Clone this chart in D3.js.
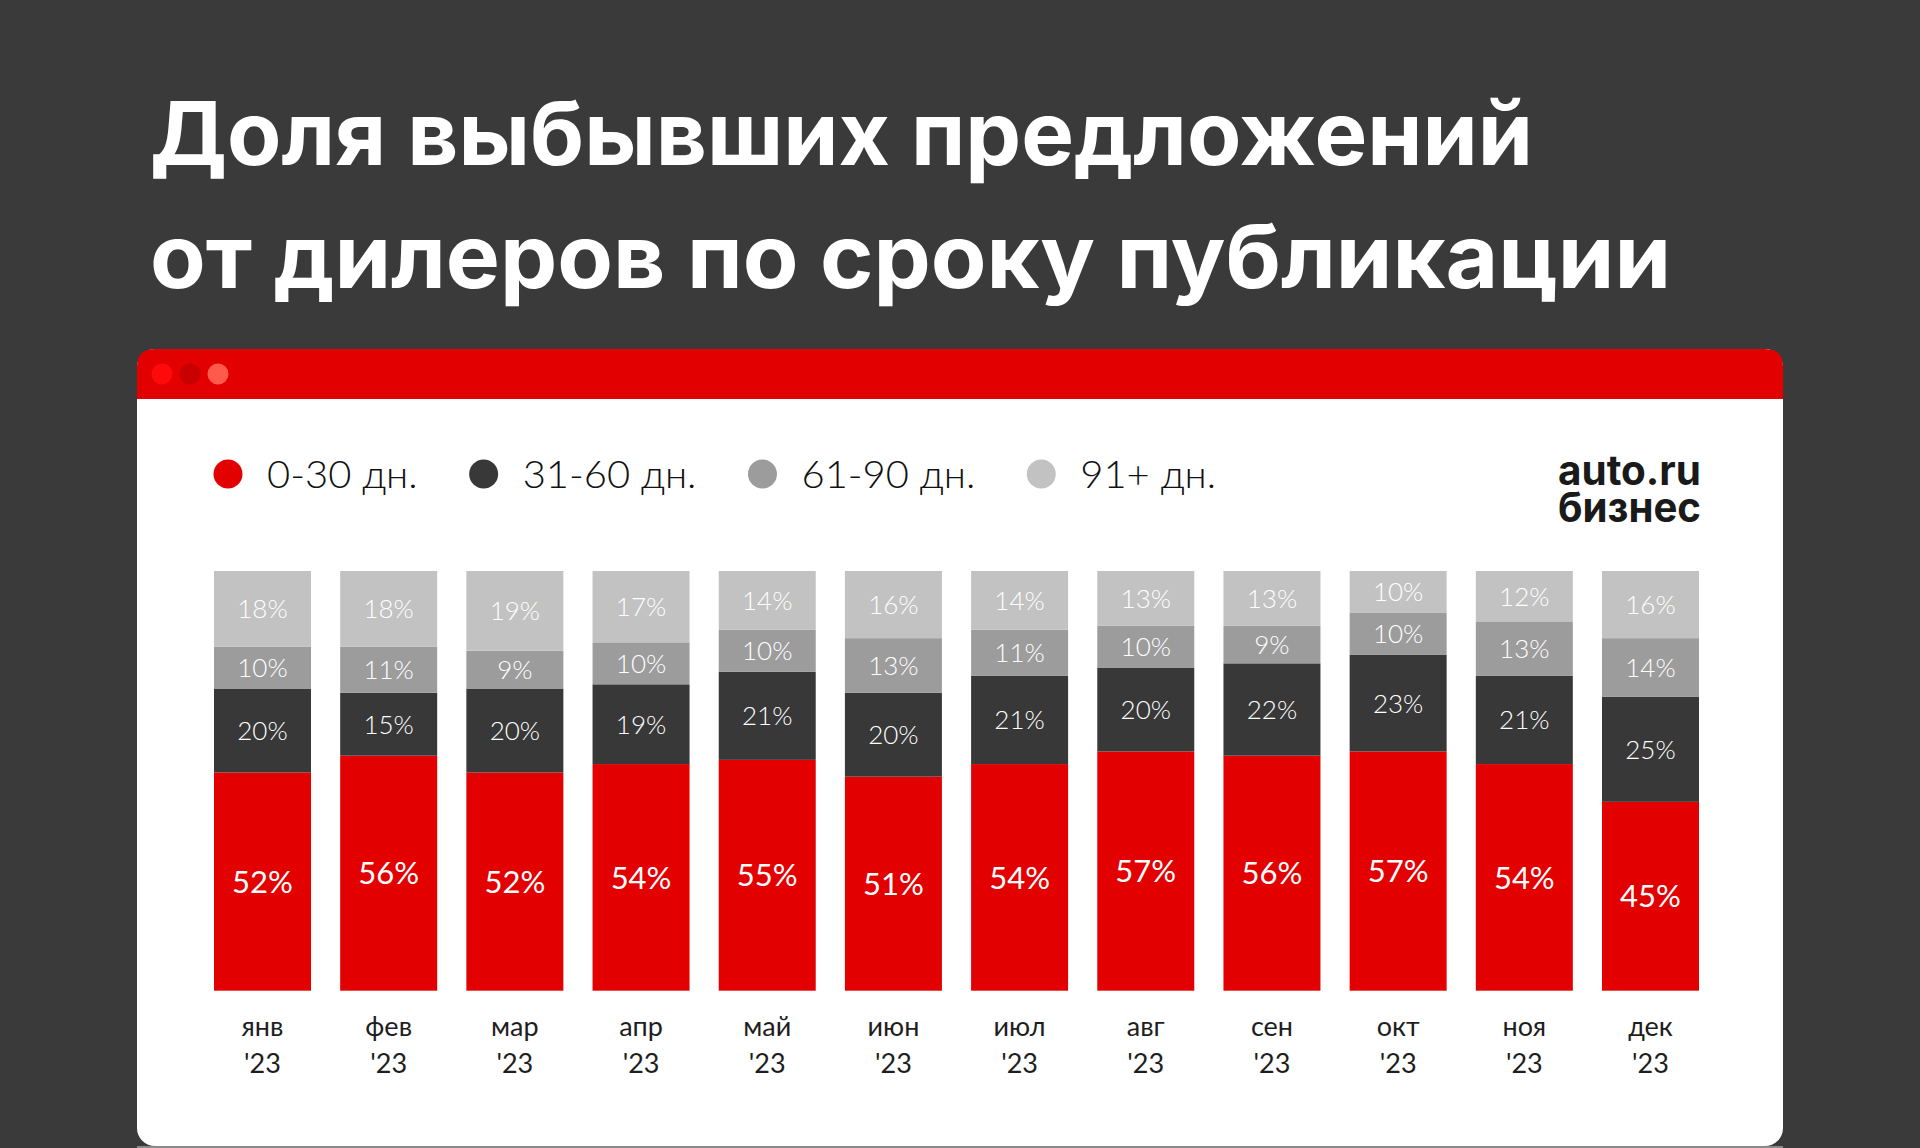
<!DOCTYPE html>
<html>
  <head>
    <meta charset="utf-8">
    <title>Доля выбывших предложений</title>
    <script src="https://d3js.org/d3.v7.min.js"></script>
    <style>
      body { margin: 0; background: #3a3a3a; }
      svg { display: block; }
    </style>
  </head>
  <body>
    <script>

      // months and values (share of removed offers, %)
      var months = ["янв", "фев", "мар", "апр", "май", "июн", "июл", "авг", "сен", "окт", "ноя", "дек"]
      var year_label = "'23"
      var series_names = ["0-30 дн.", "31-60 дн.", "61-90 дн.", "91+ дн."]
      var d0_30 = [52, 56, 52, 54, 55, 51, 54, 57, 56, 57, 54, 45]
      var d31_60 = [20, 15, 20, 19, 21, 20, 21, 20, 22, 23, 21, 25]
      var d61_90 = [10, 11, 9, 10, 10, 13, 11, 10, 9, 10, 13, 14]
      var d91 = [18, 18, 19, 17, 14, 16, 14, 13, 13, 10, 12, 16]

      var colors = ["#e30000", "#383838", "#9c9c9c", "#c2c2c2"]

      var w = 1920
      var h = 1148

      var svg = d3.select("body")
        .append("svg")
        .attr("width", w)
        .attr("height", h)

      // background
      svg.append("rect")
        .attr("width", w)
        .attr("height", h)
        .attr("fill", "#3a3a3a")

      // title
      var title_lines = ["Доля выбывших предложений", "от дилеров по сроку публикации"]
      var title_widths = [1383, 1521]
      svg.selectAll(".title")
        .data(title_lines)
        .enter()
        .append("text")
        .attr("class", "title")
        .attr("x", 150)
        .attr("y", function(d, i) { return 165 + i * 123 })
        .attr("textLength", function(d, i) { return title_widths[i] })
        .attr("lengthAdjust", "spacingAndGlyphs")
        .attr("font-family", "Inter, 'Open Sans', sans-serif")
        .attr("font-weight", 700)
        .attr("font-size", 88)
        .attr("fill", "#ffffff")
        .text(function(d) { return d })

      // card with red window header
      var card_x = 137
      var card_w = 1646
      var card_y = 349
      svg.append("rect")
        .attr("x", card_x)
        .attr("y", card_y)
        .attr("width", card_w)
        .attr("height", 1146 - card_y)
        .attr("rx", 18)
        .attr("fill", "#ffffff")
      svg.append("path")
        .attr("d", "M" + card_x + "," + 399 + "V" + (card_y + 18)
          + "Q" + card_x + "," + card_y + " " + (card_x + 18) + "," + card_y
          + "H" + (card_x + card_w - 18)
          + "Q" + (card_x + card_w) + "," + card_y + " " + (card_x + card_w) + "," + (card_y + 18)
          + "V399Z")
        .attr("fill", "#e30000")
      svg.append("rect")
        .attr("x", card_x)
        .attr("y", 1146)
        .attr("width", card_w)
        .attr("height", 2)
        .attr("fill", "#8a8a8a")

      // window dots
      var dot_colors = ["#ff0a0a", "#c80000", "#ff5a4c"]
      svg.selectAll(".dot")
        .data(dot_colors)
        .enter()
        .append("circle")
        .attr("class", "dot")
        .attr("cx", function(d, i) { return 162 + i * 28 })
        .attr("cy", 374)
        .attr("r", 10.5)
        .attr("fill", function(d) { return d })

      // legend, laid out one after another
      var legend = svg.append("g")
      var lx = 228
      series_names.forEach(function(name, i) {
        legend.append("circle")
          .attr("cx", lx)
          .attr("cy", 474)
          .attr("r", 14.5)
          .attr("fill", colors[i])
        var t = legend.append("text")
          .attr("x", lx + 39)
          .attr("y", 488)
          .attr("font-family", "Lato, sans-serif")
          .attr("font-weight", 300)
          .attr("font-size", 37)
          .attr("fill", "#111111")
          .text(name)
        var len = t.node().getComputedTextLength() * 1.08
        t.attr("textLength", len).attr("lengthAdjust", "spacingAndGlyphs")
        lx = lx + 39 + len + 66
      })

      // logo (two lines in one text)
      var logo = ["auto.ru", "бизнес"]
      svg.append("text")
        .attr("font-family", "Inter, sans-serif")
        .attr("font-weight", 700)
        .attr("font-size", 41)
        .attr("fill", "#1a1a1a")
        .selectAll("tspan")
        .data(logo)
        .enter()
        .append("tspan")
        .attr("x", 1558)
        .attr("y", function(d, i) { return 485 + i * 37 })
        .attr("textLength", 143)
        .attr("lengthAdjust", "spacingAndGlyphs")
        .text(function(d) { return d })

      // stacked data
      var table = months.map(function(m, i) {
        return { month: m, s0: d0_30[i], s1: d31_60[i], s2: d61_90[i], s3: d91[i] }
      })
      var keys = ["s0", "s1", "s2", "s3"]
      var stacked = d3.stack().keys(keys)(table)

      var x_scale = d3.scaleBand()
        .domain(months)
        .range([214, 1699])
        .paddingInner(0.2313)
        .paddingOuter(0)

      var y_scale = d3.scaleLinear()
        .domain([0, 100])
        .range([990.7, 571])

      var layers = svg.selectAll(".layer")
        .data(stacked)
        .enter()
        .append("g")
        .attr("class", "layer")
        .attr("fill", function(d, i) { return colors[i] })

      layers.selectAll("rect")
        .data(function(d) { return d })
        .enter()
        .append("rect")
        .attr("x", function(d) { return x_scale(d.data.month) })
        .attr("y", function(d) { return y_scale(d[1]) })
        .attr("width", x_scale.bandwidth())
        .attr("height", function(d) { return y_scale(d[0]) - y_scale(d[1]) })

      // value labels
      layers.selectAll("text")
        .data(function(d, i) { return d.map(function(v) { return { v: v, s: i } }) })
        .enter()
        .append("text")
        .attr("x", function(d) { return x_scale(d.v.data.month) + x_scale.bandwidth() / 2 })
        .attr("y", function(d) { return (y_scale(d.v[0]) + y_scale(d.v[1])) / 2 })
        .attr("dy", "0.36em")
        .attr("text-anchor", "middle")
        .attr("font-family", "Lato, sans-serif")
        .attr("font-weight", function(d) { return d.s == 0 ? 400 : 300 })
        .attr("font-size", function(d) { return d.s == 0 ? 31 : 26 })
        .attr("fill", "#ffffff")
        .text(function(d) { return (d.v[1] - d.v[0]) + "%" })

      // month labels
      var x_axis = d3.axisBottom(x_scale).tickSize(0).tickPadding(0)
      var ax = svg.append("g")
        .attr("transform", "translate(0,1010)")
        .call(x_axis)
      ax.select(".domain").remove()
      ax.selectAll(".tick text").remove()
      ax.selectAll(".tick").each(function(d) {
        var t = d3.select(this).append("text")
          .attr("text-anchor", "middle")
          .attr("font-family", "Lato, sans-serif")
          .attr("font-weight", 400)
          .attr("font-size", 27)
          .attr("fill", "#1e1e1e")
        t.append("tspan").attr("x", 0).attr("y", 26).text(d)
        t.append("tspan").attr("x", 0).attr("y", 63).text(year_label)
      })

    </script>
  </body>
</html>
